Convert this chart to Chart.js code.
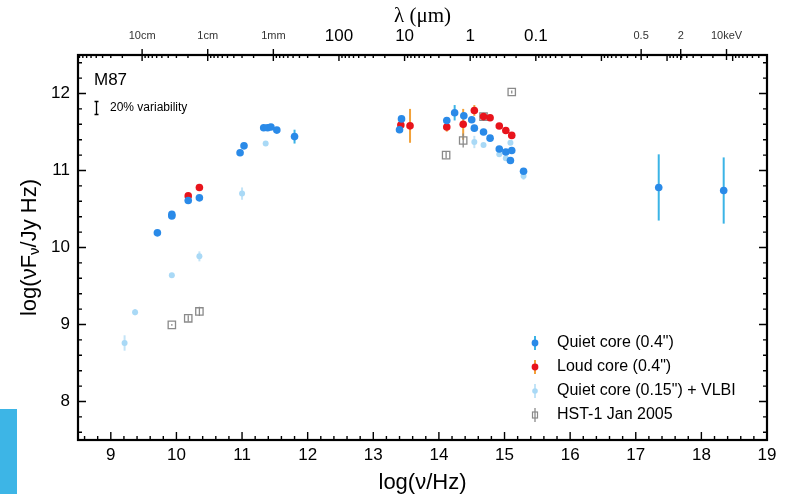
<!DOCTYPE html>
<html>
<head>
<meta charset="utf-8">
<script src="https://cdn.jsdelivr.net/npm/chart.js@4.4.0/dist/chart.umd.min.js"></script>
<style>
    html, body { margin: 0; padding: 0; background: #fff; }
    #wrap { position: relative; width: 787px; height: 494px; }
    #side { position: absolute; left: 0; top: 409px; width: 17px; height: 85px; background: #3db5e6; }
</style>
</head>
<body>
<div id="wrap">
    <canvas id="myChart" width="787" height="494"></canvas>
    <div id="side"></div>
</div>
<script>
// log(nu/Hz) and log(nu F_nu / Jy Hz)
var quietX = [9.71, 9.93, 9.93, 10.18, 10.35, 10.97, 11.03, 11.33, 11.39, 11.44, 11.53, 11.80,
              13.43, 13.40, 14.12, 14.24, 14.38, 14.50, 14.54, 14.68, 14.78, 14.92, 15.02, 15.11, 15.09, 15.29,
              17.35, 18.34];
var quietY = [10.19, 10.43, 10.41, 10.61, 10.645, 11.23, 11.32, 11.555, 11.555, 11.565, 11.525, 11.44,
              11.67, 11.53, 11.65, 11.75, 11.71, 11.66, 11.55, 11.50, 11.42, 11.28, 11.24, 11.26, 11.13, 10.99,
              10.78, 10.74];
var quietErr = [0, 0, 0, 0, 0, 0, 0, 0, 0, 0, 0, 0.09,
                0, 0.03, 0, 0.1, 0, 0, 0, 0, 0, 0, 0, 0, 0, 0,
                0.43, 0.43];

var loudX = [10.18, 10.35, 13.42, 13.56, 14.12, 14.37, 14.54, 14.68, 14.78, 14.92, 15.02, 15.11];
var loudY = [10.67, 10.78, 11.59, 11.58, 11.565, 11.60, 11.78, 11.70, 11.685, 11.577, 11.52, 11.456];
var loudErr = [0, 0, 0, 0.22, 0.06, 0.2, 0.07, 0, 0, 0, 0, 0];

var vlbiX = [9.21, 9.37, 9.93, 10.35, 11.00, 11.36, 14.54, 14.68, 14.92, 15.02, 15.09, 15.29];
var vlbiY = [8.76, 9.16, 9.64, 9.885, 10.70, 11.35, 11.37, 11.33, 11.21, 11.16, 11.36, 10.93];
var vlbiErr = [0.1, 0.04, 0.03, 0.065, 0.08, 0, 0.08, 0.02, 0.02, 0.02, 0, 0.05];

var hstX = [9.93, 10.18, 10.35, 14.11, 14.37, 14.68, 15.11];
var hstY = [8.995, 9.08, 9.17, 11.20, 11.39, 11.70, 12.02];
var hstErr = [0.01, 0.04, 0.06, 0.04, 0.09, 0.03, 0.02];

var seriesNames = ['Quiet core (0.4")', 'Loud core (0.4")', 'Quiet core (0.15") + VLBI', 'HST-1 Jan 2005'];

var bottomTicks = [9, 10, 11, 12, 13, 14, 15, 16, 17, 18, 19];
var leftTicks = [8, 9, 10, 11, 12];
// top axis: wavelength / energy labels and their log(nu) positions
var topLabels = ['10cm', '1cm', '1mm', '100', '10', '1', '0.1', '0.5', '2', '10keV'];
var topTickPos = [9.477, 10.477, 11.477, 12.477, 13.477, 14.477, 15.477, 17.082, 17.685, 18.383];
var topBig = [false, false, false, true, true, true, true, false, false, false];

var FONT = "'Liberation Sans', Arial, Helvetica, sans-serif";

function pts(xs, ys) {
    return xs.map(function (x, i) { return {x: x, y: ys[i]}; });
}

var errSets = [quietErr, loudErr, vlbiErr, hstErr];
var errColors = ['#3bb4e6', '#f2a23a', '#c3e4f7', '#8a8a8a'];
var errWidths = [2, 2, 2, 1.3];

var errorBars = {
    id: 'errorBars',
    beforeDatasetsDraw: function (chart) {
        var c = chart.ctx, sy = chart.scales.y;
        chart.data.datasets.forEach(function (ds, d) {
            var meta = chart.getDatasetMeta(d);
            c.save();
            c.strokeStyle = errColors[d];
            c.lineWidth = errWidths[d];
            meta.data.forEach(function (pt, i) {
                var e = errSets[d][i];
                if (!e) return;
                var y = ds.data[i].y;
                c.beginPath();
                c.moveTo(pt.x, sy.getPixelForValue(y - e));
                c.lineTo(pt.x, sy.getPixelForValue(y + e));
                c.stroke();
            });
            c.restore();
        });
    }
};

var frame = {
    id: 'frame',
    afterDraw: function (chart) {
        var c = chart.ctx, a = chart.chartArea;
        var sx = chart.scales.x, sy = chart.scales.y;
        var i, p, len;
        c.save();
        c.strokeStyle = '#000';
        c.lineWidth = 1.4;
        c.beginPath();
        // bottom ticks
        for (i = 43; i <= 95; i++) {
            p = sx.getPixelForValue(i / 5);
            len = (i % 5 === 0) ? 8 : 4;
            c.moveTo(p, a.bottom); c.lineTo(p, a.bottom - len);
        }
        // left + right ticks
        for (i = 38; i <= 62; i++) {
            p = sy.getPixelForValue(i / 5);
            len = (i % 5 === 0) ? 8 : 4;
            c.moveTo(a.left, p); c.lineTo(a.left + len, p);
            c.moveTo(a.right, p); c.lineTo(a.right - len, p);
        }
        // top: wavelength decades and minor ticks
        for (var dec = -5; dec <= 6; dec++) {
            for (var k = 1; k <= 9; k++) {
                var v = 14.4768 - (dec + Math.log10(k));
                if (v <= sx.min || v >= sx.max) continue;
                p = sx.getPixelForValue(v);
                len = (k === 1) ? 6 : 3;
                c.moveTo(p, a.top); c.lineTo(p, a.top + len);
            }
        }
        // labelled small ticks poke out of the box
        topTickPos.forEach(function (v, j) {
            if (topBig[j]) return;
            p = sx.getPixelForValue(v);
            c.moveTo(p, a.top - 6); c.lineTo(p, a.top + 5);
        });
        c.stroke();

        c.lineWidth = 2.2;
        c.strokeRect(a.left, a.top, a.right - a.left, a.bottom - a.top);

        // annotations
        c.fillStyle = '#000';
        c.textBaseline = 'middle';
        c.textAlign = 'left';
        c.font = '17px ' + FONT;
        c.fillText('M87', 94, 80);
        c.font = '12px ' + FONT;
        c.fillText('20% variability', 110, 108);
        c.lineWidth = 1.3;
        c.beginPath();
        c.moveTo(96.5, 101.5); c.lineTo(96.5, 114.5);
        c.moveTo(94.5, 101.5); c.lineTo(98.5, 101.5);
        c.moveTo(94.5, 114.5); c.lineTo(98.5, 114.5);
        c.stroke();

        // legend
        var rows = [343, 367, 391, 415];
        var mcol = ['#2a8ae8', '#e8141c', '#a9d9f6', '#8a8a8a'];
        c.font = '16px ' + FONT;
        rows.forEach(function (ry, j) {
            c.strokeStyle = errColors[j];
            c.lineWidth = errWidths[j];
            c.beginPath(); c.moveTo(535, ry - 7); c.lineTo(535, ry + 7); c.stroke();
            if (j === 3) {
                c.strokeStyle = mcol[j];
                c.lineWidth = 1.2;
                c.strokeRect(532.5, ry - 3, 5, 6);
            } else {
                c.fillStyle = mcol[j];
                c.beginPath(); c.arc(535, ry, j === 2 ? 2.8 : 3.4, 0, Math.PI * 2); c.fill();
            }
            c.fillStyle = '#000';
            c.fillText(seriesNames[j], 557, ry);
        });

        // y axis title with subscript nu
        c.translate(30, (a.top + a.bottom) / 2);
        c.rotate(-Math.PI / 2);
        var big = '22px ' + FONT, small = '15px ' + FONT;
        c.font = big; var w1 = c.measureText('log(\u03bdF').width;
        c.font = small; var w2 = c.measureText('\u03bd').width;
        c.font = big; var w3 = c.measureText('/Jy Hz)').width;
        var x0 = -(w1 + w2 + w3) / 2;
        c.fillStyle = '#000';
        c.textAlign = 'left';
        c.textBaseline = 'middle';
        c.font = big; c.fillText('log(\u03bdF', x0, 0);
        c.font = small; c.fillText('\u03bd', x0 + w1, 5);
        c.font = big; c.fillText('/Jy Hz)', x0 + w1 + w2, 0);
        c.restore();
    }
};

var ctx = document.getElementById('myChart').getContext('2d');
var myChart = new Chart(ctx, {
    type: 'scatter',
    data: {
        datasets: [{
            label: seriesNames[0],
            data: pts(quietX, quietY),
            pointRadius: 3.8,
            backgroundColor: '#2a8ae8',
            borderWidth: 0
        }, {
            label: seriesNames[1],
            data: pts(loudX, loudY),
            pointRadius: 3.8,
            backgroundColor: '#e8141c',
            borderWidth: 0
        }, {
            label: seriesNames[2],
            data: pts(vlbiX, vlbiY),
            pointRadius: 3,
            backgroundColor: '#a9d9f6',
            borderWidth: 0
        }, {
            label: seriesNames[3],
            data: pts(hstX, hstY),
            pointStyle: 'rect',
            pointRadius: 5.2,
            backgroundColor: 'rgba(0,0,0,0)',
            borderColor: '#8a8a8a',
            borderWidth: 1.3
        }]
    },
    options: {
        responsive: false,
        animation: false,
        devicePixelRatio: 1,
        layout: { padding: { left: 0, right: 20, top: 0, bottom: 0 } },
        plugins: { legend: { display: false }, tooltip: { enabled: false } },
        scales: {
            x: {
                type: 'linear', position: 'bottom', min: 8.5, max: 19,
                afterBuildTicks: function (s) { s.ticks = bottomTicks.map(function (v) { return {value: v}; }); },
                afterFit: function (s) { s.height = 54; },
                grid: { display: false, drawTicks: false },
                border: { display: false },
                ticks: { font: { size: 17, family: FONT }, color: '#000', padding: 5, maxRotation: 0 },
                title: { display: true, text: 'log(\u03bd/Hz)', color: '#000',
                         font: { size: 22, family: FONT, lineHeight: 1 }, padding: 0 }
            },
            x2: {
                type: 'linear', position: 'top', min: 8.5, max: 19,
                afterBuildTicks: function (s) { s.ticks = topTickPos.map(function (v) { return {value: v}; }); },
                afterFit: function (s) { s.height = 55; },
                grid: { display: false, drawTicks: false },
                border: { display: false },
                ticks: {
                    padding: 8, maxRotation: 0, autoSkip: false,
                    callback: function (v, i) { return topLabels[i]; },
                    font: function (c) {
                        return topBig[c.index] ? { size: 17, family: FONT, lineHeight: 1.2 }
                                               : { size: 11, family: FONT, lineHeight: 2 };
                    },
                    color: function (c) { return topBig[c.index] ? '#000' : '#333'; }
                },
                title: { display: true, text: '\u03bb (\u03bcm)', color: '#000',
                         font: { size: 21, family: "'Liberation Serif', 'DejaVu Serif', serif", lineHeight: 1.2 },
                         padding: { top: 4 } }
            },
            y: {
                type: 'linear', position: 'left', min: 7.5, max: 12.5,
                afterBuildTicks: function (s) { s.ticks = leftTicks.map(function (v) { return {value: v}; }); },
                afterFit: function (s) { s.width = 78; },
                grid: { display: false, drawTicks: false },
                border: { display: false },
                ticks: { font: { size: 17, family: FONT }, color: '#000', padding: 8 }
            }
        }
    },
    plugins: [errorBars, frame]
});
</script>
</body>
</html>
